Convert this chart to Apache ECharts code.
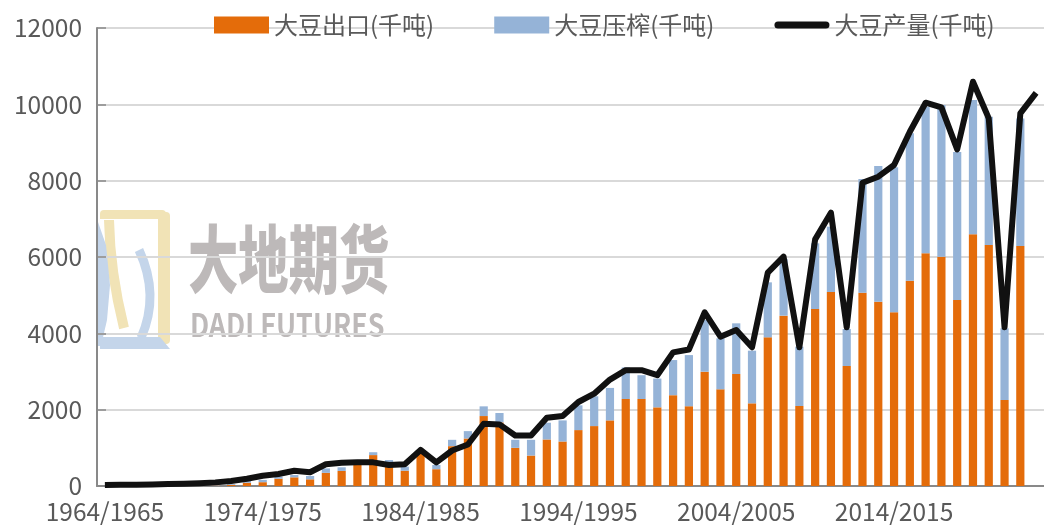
<!DOCTYPE html>
<html>
<head>
<meta charset="utf-8">
<script src="https://cdn.jsdelivr.net/npm/echarts@6/dist/echarts.min.js"></script>
<style>
  html, body { margin: 0; padding: 0; background: #fff; }
  #app { width: 1044px; height: 529px; }
</style>
</head>
<body>
<div id="app"></div>
<script>
// 市场年度 1964/1965 ... 2023/2024 (最后一年被图片右边裁掉)
const years = [];
for (let y = 1964; y <= 2023; y++) years.push(y + "/" + (y + 1));

// 千吨
const exportVals = [
  0, 0, 0, 0, 0, 0, 5, 10, 30, 85,
  100, 190, 227, 175, 345, 395, 600, 810, 560, 400,
  900, 440, 1044, 1245, 1833, 1666, 1000, 798, 1219, 1166,
  1465, 1570, 1719, 2280, 2280, 2061, 2380, 2090, 2995, 2533,
  2934, 2166, 3895, 4463, 2096, 4637, 5083, 3144, 5065, 4829,
  4550, 5380, 6096, 6008, 4873, 6593, 6314, 2253, 6288, null
];
const crushVals = [
  0, 0, 0, 0, 0, 0, 5, 10, 20, 55,
  60, 55, 60, 87, 115, 95, 60, 75, 120, 107,
  0, 110, 166, 193, 254, 246, 210, 412, 439, 553,
  649, 780, 851, 825, 623, 754, 920, 1340, 1354, 1336,
  1328, 1380, 1441, 1480, 1554, 1721, 1711, 969, 2978, 3555,
  3799, 3860, 3842, 3974, 3877, 3520, 3362, 1878, 3344, null
];
const prodVals = [
  25, 30, 35, 40, 50, 60, 75, 95, 130, 190,
  270, 315, 400, 360, 570, 610, 625, 620, 550, 570,
  944, 620, 930, 1087, 1631, 1614, 1324, 1324, 1789, 1833,
  2201, 2420, 2789, 3034, 3034, 2903, 3500, 3575, 4550, 3912,
  4087, 3633, 5589, 6008, 3633, 6462, 7161, 4157, 7947, 8104,
  8410, 9283, 10043, 9921, 8820, 10593, 9632, 4157, 9763, 10300
];

const FONT = "'Noto Sans CJK SC', 'Noto Sans', sans-serif";
const TXT = "#595959";
const AXIS = "#898989";
const WM = "#bdb9b9";
const WM_Y = "#f1e3b6";
const WM_B = "#c4d5ea";

const chart = echarts.init(document.getElementById("app"));

chart.setOption({
  animation: false,
  textStyle: { fontFamily: FONT },
  legend: {
    top: 8,
    left: 209,
    itemWidth: 55,
    itemHeight: 17,
    itemGap: 60,
    textStyle: { fontSize: 24, color: TXT, fontFamily: FONT },
    data: [
      { name: "大豆出口(千吨)", icon: "rect" },
      { name: "大豆压榨(千吨)", icon: "rect" },
      { name: "大豆产量(千吨)", icon: "path://M3.5,0 L51.5,0 A3.5,3.5 0 0 1 51.5,7 L3.5,7 A3.5,3.5 0 0 1 3.5,0 Z" }
    ]
  },
  grid: { left: 97, right: -13, top: 28, bottom: 43 },
  xAxis: {
    type: "category",
    data: years,
    boundaryGap: true,
    axisLine: { lineStyle: { color: AXIS, width: 2 } },
    axisTick: { inside: true, length: 7, interval: 0, lineStyle: { color: AXIS, width: 1.5 } },
    axisLabel: { interval: 9, fontSize: 24.5, color: TXT, margin: 13, fontFamily: FONT }
  },
  yAxis: {
    type: "value",
    min: 0,
    max: 12000,
    interval: 2000,
    axisLine: { show: true, lineStyle: { color: AXIS, width: 2 } },
    axisTick: { show: true, inside: true, length: 9, lineStyle: { color: AXIS, width: 1.5 } },
    axisLabel: { fontSize: 24.5, color: TXT, margin: 15, fontFamily: FONT, formatter: (v) => String(v) },
    splitLine: { lineStyle: { color: "#d9d9d9", width: 2 } }
  },
  graphic: [
    {
      type: "group",
      z: -5,
      silent: true,
      children: [
        { type: "rect", shape: { x: 100, y: 210, width: 66, height: 9, r: [4, 4, 0, 0] }, style: { fill: WM_Y } },
        { type: "rect", shape: { x: 158, y: 212, width: 12, height: 132, r: 4 }, style: { fill: WM_Y } },
        { type: "bezierCurve", shape: { x1: 109, y1: 220, cpx1: 110, cpy1: 272, x2: 124, y2: 328 }, style: { stroke: WM_Y, lineWidth: 10, fill: null } },
        { type: "polygon", shape: { points: [[98, 222], [106, 245], [110, 285], [107, 320], [101, 346], [98, 346]] }, style: { fill: WM_B } },
        { type: "bezierCurve", shape: { x1: 139, y1: 250, cpx1: 160, cpy1: 295, x2: 141, y2: 338 }, style: { stroke: WM_B, lineWidth: 9, fill: null } },
        { type: "polygon", shape: { points: [[100, 337], [160, 337], [170, 349], [100, 349]] }, style: { fill: WM_B } },
        {
          type: "text", x: 188, y: 259, scaleX: 0.68,
          style: { text: "大地期货", fill: WM, font: "900 74px " + FONT, textVerticalAlign: "middle" }
        },
        {
          type: "text", x: 190, y: 325, scaleX: 0.84,
          style: { text: "DADI FUTURES", fill: WM, font: "700 32px " + FONT, textVerticalAlign: "middle" }
        }
      ]
    }
  ],
  series: [
    {
      name: "大豆出口(千吨)",
      type: "bar",
      stack: "use",
      data: exportVals,
      barWidth: "52%",
      itemStyle: { color: "#e46c0a" }
    },
    {
      name: "大豆压榨(千吨)",
      type: "bar",
      stack: "use",
      data: crushVals,
      barWidth: "52%",
      itemStyle: { color: "#95b3d7" }
    },
    {
      name: "大豆产量(千吨)",
      type: "line",
      data: prodVals,
      symbol: "none",
      z: 5,
      lineStyle: { color: "#111111", width: 6, join: "round" },
      itemStyle: { color: "#111111" }
    }
  ]
});
</script>
</body>
</html>
